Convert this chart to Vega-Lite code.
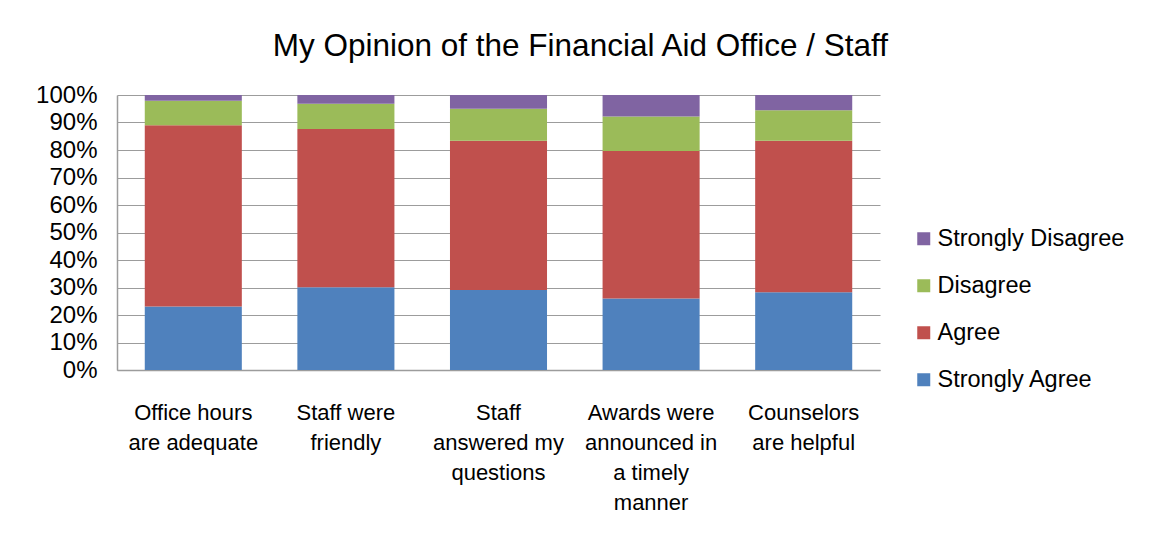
{
  "$schema": "https://vega.github.io/schema/vega-lite/v6.json",
  "autosize": {"type": "none"},
  "width": 763,
  "height": 275,
  "padding": {"left": 117, "top": 95, "right": 271, "bottom": 172},
  "background": "white",
  "title": {
    "text": "My Opinion of the Financial Aid Office / Staff",
    "font": "Liberation Sans",
    "fontSize": 31.5,
    "fontWeight": "normal",
    "color": "black",
    "anchor": "middle",
    "frame": "bounds",
    "offset": 21
  },
  "data": {
    "values": [
      {"item": "Office hours are adequate", "response": "Strongly Agree", "rank": 1, "pct": 23.1},
      {"item": "Office hours are adequate", "response": "Agree", "rank": 2, "pct": 65.9},
      {"item": "Office hours are adequate", "response": "Disagree", "rank": 3, "pct": 8.9},
      {"item": "Office hours are adequate", "response": "Strongly Disagree", "rank": 4, "pct": 2.1},
      {"item": "Staff were friendly", "response": "Strongly Agree", "rank": 1, "pct": 30.1},
      {"item": "Staff were friendly", "response": "Agree", "rank": 2, "pct": 57.5},
      {"item": "Staff were friendly", "response": "Disagree", "rank": 3, "pct": 9.2},
      {"item": "Staff were friendly", "response": "Strongly Disagree", "rank": 4, "pct": 3.2},
      {"item": "Staff answered my questions", "response": "Strongly Agree", "rank": 1, "pct": 29.1},
      {"item": "Staff answered my questions", "response": "Agree", "rank": 2, "pct": 54.3},
      {"item": "Staff answered my questions", "response": "Disagree", "rank": 3, "pct": 11.6},
      {"item": "Staff answered my questions", "response": "Strongly Disagree", "rank": 4, "pct": 5.0},
      {"item": "Awards were announced in a timely manner", "response": "Strongly Agree", "rank": 1, "pct": 26.0},
      {"item": "Awards were announced in a timely manner", "response": "Agree", "rank": 2, "pct": 53.6},
      {"item": "Awards were announced in a timely manner", "response": "Disagree", "rank": 3, "pct": 12.6},
      {"item": "Awards were announced in a timely manner", "response": "Strongly Disagree", "rank": 4, "pct": 7.8},
      {"item": "Counselors are helpful", "response": "Strongly Agree", "rank": 1, "pct": 28.3},
      {"item": "Counselors are helpful", "response": "Agree", "rank": 2, "pct": 55.1},
      {"item": "Counselors are helpful", "response": "Disagree", "rank": 3, "pct": 11.1},
      {"item": "Counselors are helpful", "response": "Strongly Disagree", "rank": 4, "pct": 5.5}
    ]
  },
  "mark": {"type": "bar"},
  "encoding": {
    "x": {
      "field": "item",
      "type": "nominal",
      "sort": null,
      "title": null,
      "scale": {"paddingInner": 0.364, "paddingOuter": 0.182},
      "axis": {
        "labelAngle": 0,
        "labelFont": "Liberation Sans",
        "labelFontSize": 22,
        "labelColor": "black",
        "labelBaseline": "top",
        "labelPadding": 32,
        "labelLineHeight": 30.3,
        "labelLimit": 0,
        "ticks": false,
        "domainColor": "#9c9c9c",
        "grid": false,
        "labelExpr": "datum.value == 'Office hours are adequate' ? ['Office hours', 'are adequate'] : datum.value == 'Staff were friendly' ? ['Staff were', 'friendly'] : datum.value == 'Staff answered my questions' ? ['Staff', 'answered my', 'questions'] : datum.value == 'Awards were announced in a timely manner' ? ['Awards were', 'announced in', 'a timely', 'manner'] : ['Counselors', 'are helpful']"
      }
    },
    "y": {
      "field": "pct",
      "type": "quantitative",
      "stack": "normalize",
      "title": null,
      "scale": {"domain": [0, 1], "nice": false},
      "axis": {
        "format": ".0%",
        "values": [0, 0.1, 0.2, 0.3, 0.4, 0.5, 0.6, 0.7, 0.8, 0.9, 1],
        "labelFont": "Liberation Sans",
        "labelFontSize": 24,
        "labelColor": "black",
        "labelPadding": 20,
        "ticks": false,
        "domainColor": "#9c9c9c",
        "gridColor": "#9c9c9c",
        "gridOpacity": 1
      }
    },
    "color": {
      "field": "response",
      "type": "nominal",
      "scale": {
        "domain": ["Strongly Disagree", "Disagree", "Agree", "Strongly Agree"],
        "range": ["#8064A2", "#9BBB59", "#C0504D", "#4F81BD"]
      },
      "legend": {
        "title": null,
        "orient": "none",
        "legendX": 795,
        "legendY": 132,
        "symbolType": "square",
        "symbolSize": 169,
        "symbolStrokeWidth": 0,
        "labelFont": "Liberation Sans",
        "labelFontSize": 23.5,
        "labelColor": "black",
        "labelOffset": 2,
        "rowPadding": 22,
        "labelLimit": 0
      }
    },
    "order": {"field": "rank", "type": "quantitative", "sort": "ascending"}
  },
  "config": {
    "view": {"stroke": null},
    "axis": {"gridWidth": 1, "domainWidth": 1.5}
  }
}
